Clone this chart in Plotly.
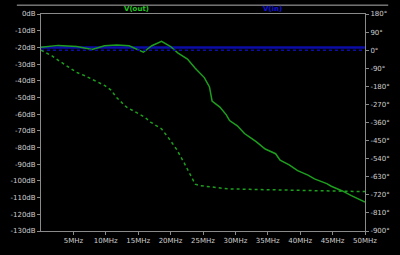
import plotly.graph_objects as go

# V(out) magnitude (dB) vs frequency (MHz)
freq_mag = [0, 2.65, 5.5, 7.9, 9.8, 11.7, 13.6, 15.8, 17.1, 18.6, 20.0, 21.1, 22.6, 23.8,
            25.2, 26.0, 26.4, 27.6, 28.6, 29.1, 30.3, 31.4, 32.2, 33.2, 34.6, 36.2, 36.9,
            38.3, 39.6, 41.2, 42.2, 44.1, 44.8, 46.5, 47.9, 50]
mag_out = [-20, -18.8, -19.5, -21.2, -19.0, -18.6, -19.0, -22.9, -19.0, -16.4, -19.5, -23.3,
           -27.0, -32.5, -38.1, -43.7, -52.1, -55.8, -60.4, -63.8, -67.0, -71.6, -73.8,
           -76.5, -80.9, -83.7, -87.6, -90.4, -93.8, -96.5, -98.8, -101.6, -103.2, -106.0,
           -108.8, -112.7]

# V(out) phase (degrees)
freq_ph = [0, 1.7, 3.1, 4.6, 5.5, 6.9, 8.4, 9.8, 10.8, 11.7, 13.2, 14.6, 16.0, 16.9, 18.6,
           19.7, 20.9, 22.1, 23.1, 23.8, 24.5, 26.4, 28.8, 32.2, 40.8, 46.5, 50]
phase_out = [0, -28.6, -59.6, -90.2, -110.6, -129.2, -152.3, -175.5, -198.7, -237.2, -283.5,
             -306.7, -333.1, -357.7, -391.5, -437.8, -492.1, -561.6, -623.3, -666.8, -674.2,
             -682.1, -690, -692.8, -699.3, -703.9, -703.9]

# V(in): flat
freq_in = [0, 50]
mag_in = [-20, -20]
phase_in = [0, 0]

x_ticks = [5, 10, 15, 20, 25, 30, 35, 40, 45, 50]
x_labels = ["5MHz", "10MHz", "15MHz", "20MHz", "25MHz", "30MHz", "35MHz", "40MHz", "45MHz", "50MHz"]
db_ticks = list(range(0, -131, -10))
db_labels = [f"{v}dB" for v in db_ticks]
deg_ticks = list(range(180, -901, -90))
deg_labels = [f"{v}°" for v in deg_ticks]

GREEN = "#1e9e1e"
BLUE = "#0c0ca8"
AXIS = "#8a8a8a"
TXT = "#cfcfcf"
FONT = "DejaVu Sans"

fig = go.Figure()
fig.add_trace(go.Scatter(x=freq_in, y=mag_in, mode="lines", line=dict(color=BLUE, width=2.5),
                         yaxis="y", showlegend=False))
fig.add_trace(go.Scatter(x=freq_in, y=phase_in, mode="lines", line=dict(color=BLUE, width=1.5, dash="dot"),
                         yaxis="y2", showlegend=False))
fig.add_trace(go.Scatter(x=freq_ph, y=phase_out, mode="lines", line=dict(color=GREEN, width=1.5, dash="dot"),
                         yaxis="y2", showlegend=False))
fig.add_trace(go.Scatter(x=freq_mag, y=mag_out, mode="lines", line=dict(color=GREEN, width=1.5),
                         yaxis="y", showlegend=False))

W, H = 400, 255
ml, mr, mt, mb = 26, 25, 10, 12
pw, ph = W - ml - mr, H - mt - mb

fig.update_layout(
    width=W, height=H,
    margin=dict(l=ml, r=mr, t=mt, b=mb, pad=0),
    paper_bgcolor="black", plot_bgcolor="black",
    font=dict(family=FONT, size=7, color=TXT),
    xaxis=dict(range=[0, 50], tickvals=x_ticks, ticktext=x_labels, showgrid=False, zeroline=False,
               showline=True, mirror=True, linecolor=AXIS, linewidth=1,
               ticks="outside", ticklen=3, tickcolor=AXIS, tickfont=dict(size=7, color=TXT)),
    yaxis=dict(range=[-130, 0], tickvals=db_ticks, ticktext=db_labels, showgrid=False, zeroline=False,
               showline=True, linecolor=AXIS, linewidth=1,
               ticks="outside", ticklen=3, tickcolor=AXIS, tickfont=dict(size=7, color=TXT)),
    yaxis2=dict(range=[-900, 180], tickvals=deg_ticks, ticktext=deg_labels, overlaying="y", side="right",
                showgrid=False, zeroline=False, showline=True, linecolor=AXIS, linewidth=1,
                ticks="outside", ticklen=3, tickcolor=AXIS, tickfont=dict(size=7, color=TXT)),
    annotations=[
        dict(text="<b>V(out)</b>", x=(113 - ml) / pw, y=1 + 5 / ph, xref="paper", yref="paper",
             showarrow=False, font=dict(size=7, color="#22c822", family=FONT), yanchor="middle"),
        dict(text="<b>V(in)</b>", x=(288 - ml) / pw, y=1 + 5 / ph, xref="paper", yref="paper",
             showarrow=False, font=dict(size=7, color="#1010e0", family=FONT), yanchor="middle"),
    ],
    shapes=[
        dict(type="line", xref="paper", yref="paper", x0=-ml / pw, x1=1 + mr / pw,
             y0=1 + 9.5 / ph, y1=1 + 9.5 / ph, line=dict(color="#b0b0b0", width=1)),
    ],
)

fig.write_html("out.html")
